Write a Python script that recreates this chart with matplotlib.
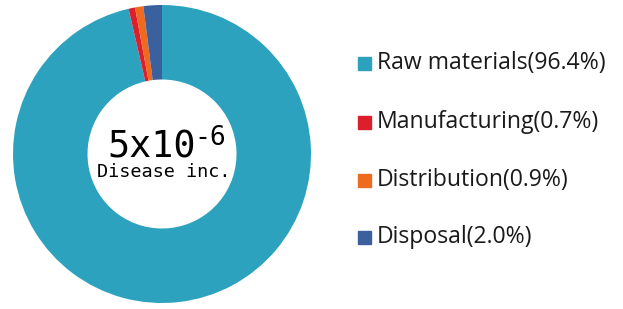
import matplotlib
matplotlib.use('Agg')
import matplotlib.pyplot as plt
from matplotlib.patches import Rectangle

# data
stages = ['Raw materials', 'Manufacturing', 'Distribution', 'Disposal']
shares = [96.4, 0.7, 0.9, 2.0]
colors = ['#2CA2BF', '#DD1F2D', '#EE6A1F', '#3A619E']
center_value = '5x10'
center_exp = '-6'
center_label = 'Disease inc.'

W, H = 623, 309
fig = plt.figure(figsize=(W / 100, H / 100), dpi=100)

# donut: center (162, 154), outer radius 149 px
cx, cy, r = 162, 154, 149
ax = fig.add_axes([(cx - r) / W, 1 - (cy + r) / H, 2 * r / W, 2 * r / H])
ax.pie(shares, colors=colors, startangle=90, counterclock=False,
       radius=1.0, wedgeprops=dict(width=0.5, linewidth=0))
ax.set_xlim(-1, 1)
ax.set_ylim(-1, 1)
ax.set_aspect('equal')
ax.axis('off')

# center text
fig.text(107 / W, 1 - 157 / H, center_value, family='DejaVu Sans Mono',
         fontsize=26.5, ha='left', va='baseline', color='black')
fig.text(194 / W, 1 - 145 / H, center_exp, family='DejaVu Sans Mono',
         fontsize=19, ha='left', va='baseline', color='black')
fig.text(164 / W, 1 - 177 / H, center_label, family='DejaVu Sans Mono',
         fontsize=13.3, ha='center', va='baseline', color='black')

# legend
rows_y = [63, 122, 180, 237]
for name, val, col, y in zip(stages, shares, colors, rows_y):
    fig.patches.append(Rectangle((358 / W, 1 - (y + 7) / H), 13 / W, 13 / H,
                                 transform=fig.transFigure, color=col))
    fig.text(377 / W, 1 - y / H, f'{name}({val:.1f}%)', family='Open Sans',
             fontsize=16.6, ha='left', va='center', color='#1a1a1a')

fig.savefig('out.png', dpi=100)
